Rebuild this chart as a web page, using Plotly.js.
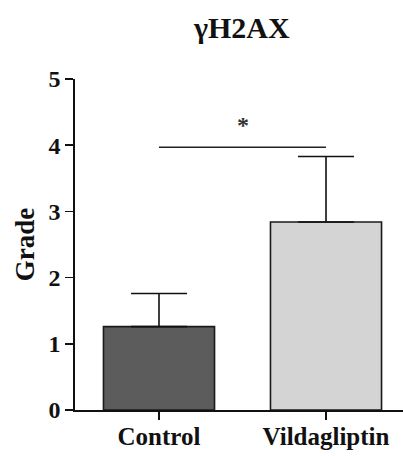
<!DOCTYPE html>
<html>
<head>
<meta charset="utf-8">
<script src="https://cdn.plot.ly/plotly-3.0.1.min.js"></script>
<style>html,body{margin:0;padding:0;background:#fff;}#chart{width:403px;height:456px;}</style>
</head>
<body>
<div id="chart"></div>
<script>
const categories = ["Control", "Vildagliptin"];
const means = [1.26, 2.84];
const errors = [0.50, 0.99];
const barColors = ["#5c5c5c", "#d4d4d4"];
const sigY = 3.97;
const sigLabel = "*";
const sigLabelY = 4.30;
const yTicks = [0, 1, 2, 3, 4, 5];

const serif = "Liberation Serif";

const trace = {
  type: "bar",
  x: [0, 1],
  y: means,
  width: 0.665,
  marker: {color: barColors, line: {color: "#1a1a1a", width: 1.6}},
  error_y: {type: "data", symmetric: false, array: errors, arrayminus: [0, 0], color: "#111", thickness: 1.6, width: 28},
  hoverinfo: "none"
};

const layout = {
  width: 403, height: 456,
  margin: {l: 75, r: 0, t: 79, b: 46},
  paper_bgcolor: "#fff", plot_bgcolor: "#fff",
  showlegend: false,
  font: {family: serif, weight: "bold"},
  title: {
    text: "γH2AX",
    font: {family: serif, size: 30, color: "#111", weight: "bold"},
    x: 0.6, xref: "container", xanchor: "center",
    y: 1 - 27/456, yref: "container", yanchor: "middle"
  },
  xaxis: {
    range: [-0.503, 1.461],
    tickmode: "array", tickvals: [0, 1], ticktext: categories,
    showline: true, linecolor: "#111", linewidth: 1.6,
    ticks: "outside", ticklen: 8, tickwidth: 1.6, tickcolor: "#111",
    showgrid: false, zeroline: false,
    ticklabelstandoff: -5,
    tickfont: {family: serif, size: 25, color: "#111", weight: "bold"}
  },
  yaxis: {
    range: [0, 5],
    tickmode: "array", tickvals: yTicks, ticktext: yTicks.map(String),
    showline: true, linecolor: "#111", linewidth: 1.6,
    ticks: "outside", ticklen: 8, tickwidth: 1.6, tickcolor: "#111",
    showgrid: false, zeroline: false,
    tickfont: {family: serif, size: 24, color: "#111", weight: "bold"},
    title: {text: "Grade", font: {family: serif, size: 27, color: "#111", weight: "bold"}, standoff: 6}
  },
  shapes: [{
    type: "line", xref: "x", yref: "y",
    x0: 0, x1: 1, y0: sigY, y1: sigY,
    line: {color: "#222", width: 1.6}
  }],
  annotations: [{
    x: 0.5, y: sigLabelY, xref: "x", yref: "y",
    text: sigLabel, showarrow: false,
    font: {family: serif, size: 24, color: "#333", weight: "bold"},
    xanchor: "center", yanchor: "middle"
  }]
};

Plotly.newPlot("chart", [trace], layout, {displayModeBar: false, staticPlot: true});
</script>
</body>
</html>
